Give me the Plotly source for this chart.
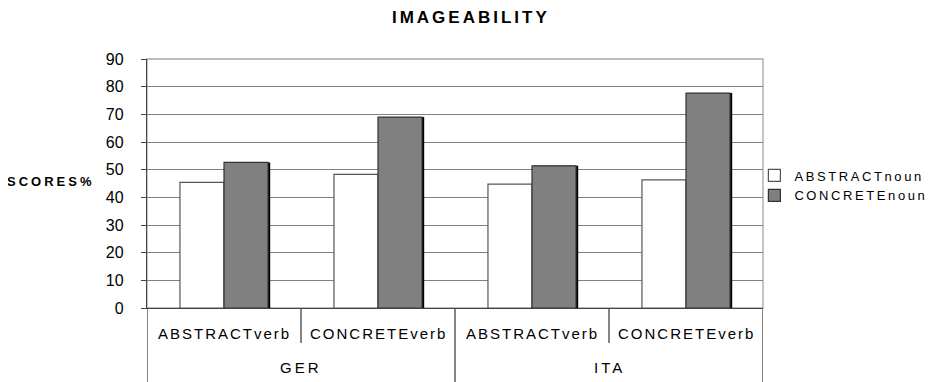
import plotly.graph_objects as go

languages = ["GER", "GER", "ITA", "ITA"]
verb_types = ["ABSTRACTverb", "CONCRETEverb", "ABSTRACTverb", "CONCRETEverb"]
abstract_noun = [45.4, 48.3, 44.8, 46.3]
concrete_noun = [52.6, 69.0, 51.4, 77.7]
y_ticks = [0, 10, 20, 30, 40, 50, 60, 70, 80, 90]

font = "Liberation Sans, Arial, sans-serif"
ls = lambda t, px: f'<span style="letter-spacing:{px}px">{t}</span>'

pos = list(range(len(verb_types)))
bw = 0.286
axis_col = "#444444"

fig = go.Figure()
fig.add_trace(go.Bar(x=pos, y=concrete_noun, offset=0.014, width=bw,
                     marker=dict(color="#000000", line=dict(width=0)),
                     showlegend=False, hoverinfo="skip"))
fig.add_trace(go.Bar(x=pos, y=abstract_noun, name=ls("ABSTRACTnoun", 2.6), offset=-bw, width=bw,
                     marker=dict(color="#ffffff", line=dict(color="#555555", width=1.2))))
fig.add_trace(go.Bar(x=pos, y=concrete_noun, name=ls("CONCRETEnoun", 2.6), offset=0, width=bw,
                     marker=dict(color="#808080", line=dict(color="#333333", width=1.2))))

annotations = []
shapes = [dict(type="rect", xref="paper", yref="paper", x0=0, x1=1, y0=0, y1=1,
               line=dict(color="#a6a6a6", width=1.3), layer="below")]
# inner labels
for p, v in zip(pos, verb_types):
    annotations.append(dict(text=ls(v, 2), x=p, xref="x", y=-0.104, yref="paper",
                            xanchor="center", yanchor="middle", showarrow=False,
                            font=dict(family=font, size=15, color="#000000")))
# outer labels
groups = []
for lang in languages:
    if lang not in groups:
        groups.append(lang)
for g in groups:
    idx = [p for p, l in zip(pos, languages) if l == g]
    annotations.append(dict(text=ls(g, 3), x=sum(idx) / len(idx), xref="x", y=-0.237, yref="paper",
                            xanchor="center", yanchor="middle", showarrow=False,
                            font=dict(family=font, size=15, color="#000000")))
# dividers
for i in range(len(pos) + 1):
    b = i - 0.5
    outer = i == 0 or i == len(pos) or languages[i] != languages[i - 1]
    shapes.append(dict(type="line", xref="x", yref="paper", x0=b, x1=b, y0=0,
                       y1=-0.30 if outer else -0.141,
                       line=dict(color=axis_col, width=1.3)))

annotations.append(dict(text="<b>" + ls("SCORES%", 3) + "</b>", xref="paper", yref="paper",
                        x=-0.157, y=0.509, xanchor="center", yanchor="middle", showarrow=False,
                        font=dict(family=font, size=13, color="#000000")))

fig.update_layout(
    width=937, height=374,
    margin=dict(l=139, r=182, t=51, b=74),
    paper_bgcolor="white", plot_bgcolor="white",
    barmode="overlay",
    font=dict(family=font, size=14, color="#000000"),
    title=dict(text="<b>" + ls("IMAGEABILITY", 3) + "</b>", x=0.494, xanchor="center",
               y=0.975, yanchor="middle", font=dict(family=font, size=17, color="#000000")),
    legend=dict(x=0.986, y=0.492, xanchor="left", yanchor="middle",
                font=dict(family=font, size=13), tracegroupgap=0,
                bgcolor="rgba(0,0,0,0)"),
    shapes=shapes,
    annotations=annotations,
)
fig.update_yaxes(range=[0, 90], tickvals=y_ticks, ticks="outside", ticklen=5,
                 tickcolor=axis_col, showline=True, linecolor=axis_col, linewidth=1.3,
                 showgrid=True, gridcolor="#808080", gridwidth=1.3, zeroline=False,
                 tickfont=dict(size=16), ticklabelstandoff=14, automargin=False)
fig.update_xaxes(range=[-0.5, len(pos) - 0.5], showline=True, linecolor=axis_col,
                 linewidth=1.3, showticklabels=False, ticks="", showgrid=False,
                 zeroline=False, automargin=False)

fig.write_html("out.html")
